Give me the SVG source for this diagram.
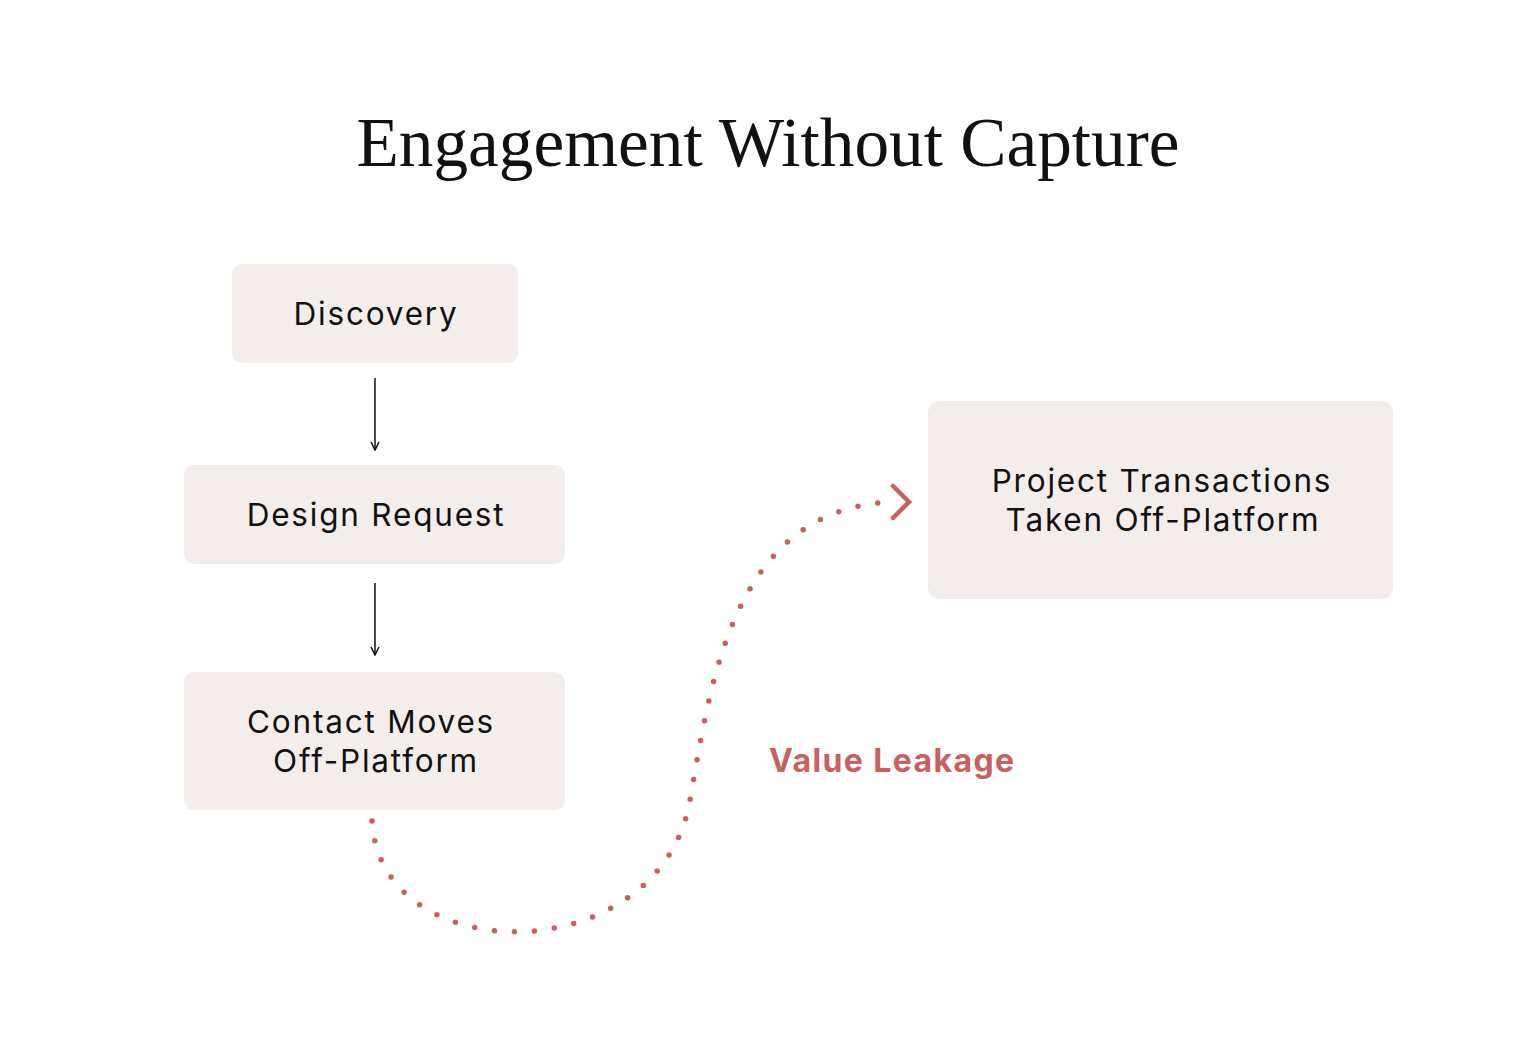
<svg xmlns="http://www.w3.org/2000/svg" width="1536" height="1055" viewBox="0 0 1536 1055">
<style>
.box{fill:#f3eeeb}
.lbl{font-family:Inter,"Noto Sans",sans-serif;font-size:31.5px;fill:#111;letter-spacing:1.8px;text-anchor:middle}
.title{font-family:"Liberation Serif","DejaVu Serif",serif;font-size:70px;fill:#111;text-anchor:middle}
.leak{font-family:Inter,"Noto Sans",sans-serif;font-size:32px;font-weight:700;fill:#c96060;letter-spacing:1.4px}
</style>
<defs>
<marker id="ah" viewBox="0 0 10 10" refX="9" refY="5" markerWidth="10" markerHeight="10" markerUnits="userSpaceOnUse" orient="auto">
<path d="M1,1 L9,5 L1,9" fill="none" stroke="#111" stroke-width="1.5"/>
</marker>
</defs>
<rect width="1536" height="1055" fill="#fff"/>
<text class="title" x="768" y="166" textLength="823" lengthAdjust="spacingAndGlyphs">Engagement Without Capture</text>
<g id="discovery"><rect class="box" x="232" y="264" width="286" height="99" rx="10"/><text class="lbl" x="376" y="325">Discovery</text></g>
<g id="design-request"><rect class="box" x="184" y="465" width="381" height="99" rx="10"/><text class="lbl" x="376" y="526">Design Request</text></g>
<g id="contact-moves"><rect class="box" x="184" y="672" width="381" height="138" rx="10"/><text class="lbl" x="371" y="733">Contact Moves</text><text class="lbl" x="376" y="772">Off-Platform</text></g>
<g id="project-transactions"><rect class="box" x="928" y="401" width="465" height="198" rx="12"/><text class="lbl" x="1162" y="492">Project Transactions</text><text class="lbl" x="1163" y="531">Taken Off-Platform</text></g>
<g id="connectors">
<line x1="375" y1="378" x2="375" y2="450" stroke="#111" stroke-width="1.5" marker-end="url(#ah)"/>
<line x1="375" y1="583" x2="375" y2="655" stroke="#111" stroke-width="1.5" marker-end="url(#ah)"/>
<path d="M372,821 C380,972 660,972 690,800 C710,690 730,510 890,502" fill="none" stroke="#c95f5f" stroke-width="5.5" stroke-linecap="round" stroke-dasharray="0 20"/>
<path d="M893,486 L909,502 L893,518" fill="none" stroke="#c95f5f" stroke-width="4.5" stroke-linecap="round" stroke-linejoin="miter"/>
<text class="leak" x="769" y="772">Value Leakage</text>
</g>
</svg>
